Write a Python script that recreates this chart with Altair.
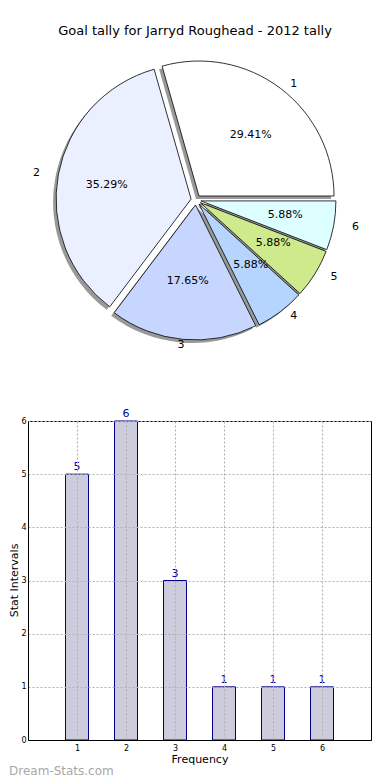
import altair as alt
import pandas as pd

# ---- data ----
categories = ["1", "2", "3", "4", "5", "6"]
cat_num = [1, 2, 3, 4, 5, 6]
goals = [5, 6, 3, 1, 1, 1]
slice_colors = ["#ffffff", "#eaf0ff", "#c6d6ff", "#b5d5ff", "#cfea8c", "#ddffff"]
y_ticks = [0, 1, 2, 3, 4, 5, 6]
x_ticks = [1, 2, 3, 4, 5, 6]
title_text = "Goal tally for Jarryd Roughead - 2012 tally"
x_title = "Frequency"
y_title = "Stat Intervals"
watermark = "Dream-Stats.com"

df = pd.DataFrame({"cat": categories, "num": cat_num, "goals": goals, "color": slice_colors})

FONT = "DejaVu Sans"

# ---- layout (pixels) ----
PLOT_LEFT = 27          # image x of bar plot's left edge (also pie panel origin)
W2, H2 = 343, 319
W1, H1 = 343, 390

# pie geometry in pie-panel pixels
CX, CY = 195 - PLOT_LEFT, 191
RX, RY = 143, 128
R = 135
E = 5

base = (
    alt.Chart(df)
    .transform_window(cum="sum(goals)", sort=[alt.SortField("num")])
    .transform_joinaggregate(total="sum(goals)")
    .transform_calculate(
        t0="PI/2 - 2*PI*datum.cum/datum.total",
        t1="PI/2 - 2*PI*(datum.cum - datum.goals)/datum.total",
    )
    .transform_calculate(mid="(datum.t0 + datum.t1)/2")
    .transform_calculate(
        cx=f"{CX} + {E}*sin(datum.mid)",
        cy=f"{CY} - {E}*cos(datum.mid)",
    )
    .transform_calculate(
        lx=f"datum.cx + 1.1*{RX}*sin(datum.mid)",
        ly=f"datum.cy - 1.1*{RY}*cos(datum.mid)",
        px=f"datum.cx + 0.6*{RX}*sin(datum.mid)",
        py=f"datum.cy - 0.6*{RY}*cos(datum.mid)",
        pct="format(datum.goals/datum.total, '.2%')",
    )
)

arc_enc = dict(
    x=alt.X("cx:Q", scale=None, axis=None),
    y=alt.Y("cy:Q", scale=None, axis=None),
    theta=alt.Theta("t0:Q", scale=None),
    theta2=alt.Theta2("t1:Q"),
)

shadow = base.mark_arc(radius=R, fill="#999999", xOffset=-3, yOffset=3).encode(**arc_enc)
arcs = base.mark_arc(radius=R, stroke="black", strokeWidth=0.8).encode(
    color=alt.Color("color:N", scale=None), **arc_enc
)
labels = base.mark_text(font=FONT, fontSize=11, color="black").encode(
    x=alt.X("lx:Q", scale=None, axis=None),
    y=alt.Y("ly:Q", scale=None, axis=None),
    text="cat:N",
)
pcts = base.mark_text(font=FONT, fontSize=11, color="black").encode(
    x=alt.X("px:Q", scale=None, axis=None),
    y=alt.Y("py:Q", scale=None, axis=None),
    text="pct:N",
)
title = alt.Chart(pd.DataFrame({"t": [title_text]})).mark_text(
    font=FONT, fontSize=13, color="black", baseline="middle"
).encode(x=alt.value(194 - PLOT_LEFT), y=alt.value(22), text="t:N")

pie = alt.layer(shadow, arcs, labels, pcts, title).properties(width=W1, height=H1)

# ---- bar panel ----
xaxis = alt.Axis(
    values=x_ticks, title=x_title, grid=True, gridDash=[2, 2], gridColor="#b0b0b0",
    labelFontSize=8, labelPadding=4, ticks=False, domainColor="black",
    titleFontSize=11, titleFontWeight="normal", titlePadding=1, titleColor="black",
    labelColor="black", zindex=1,
)
yaxis = alt.Axis(
    values=y_ticks, title=None, grid=True, gridDash=[2, 2], gridColor="#b0b0b0",
    labelFontSize=8, labelPadding=2, ticks=False, domainColor="black",
    labelColor="black", zindex=1,
)

bars = alt.Chart(df).mark_bar(size=23, fill="#ccccdd", stroke="#000088", strokeWidth=1).encode(
    x=alt.X("num:Q", scale=alt.Scale(domain=[0, 7], nice=False, zero=False, padding=0), axis=xaxis),
    y=alt.Y("goals:Q", scale=alt.Scale(domain=[0, 6], nice=False, padding=0), axis=yaxis),
)
values = alt.Chart(df).mark_text(
    font=FONT, fontSize=11, color="#0000aa", baseline="bottom", dy=-2
).encode(x="num:Q", y="goals:Q", text="goals:Q")
ytitle = alt.Chart(pd.DataFrame({"t": [y_title]})).mark_text(
    font=FONT, fontSize=11, color="black", angle=270, align="center", baseline="middle"
).encode(x=alt.value(-13.5), y=alt.value(H2 / 2), text="t:N")
wm = alt.Chart(pd.DataFrame({"t": [watermark]})).mark_text(
    font=FONT, fontSize=12, color="#a8a8a8", align="left", baseline="middle"
).encode(x=alt.value(-19), y=alt.value(H2 + 31), text="t:N")

barchart = alt.layer(bars, values, ytitle, wm).properties(
    width=W2, height=H2, view=alt.ViewBackground(stroke="black", strokeWidth=1)
)

chart = (
    alt.vconcat(pie, barchart, spacing=7)
    .properties(padding={"left": 0, "top": 0, "right": 0, "bottom": 0})
    .configure(font=FONT)
    .configure_view(stroke="transparent")
)

chart.save("out.html", embed_options={"renderer": "svg", "actions": False})
